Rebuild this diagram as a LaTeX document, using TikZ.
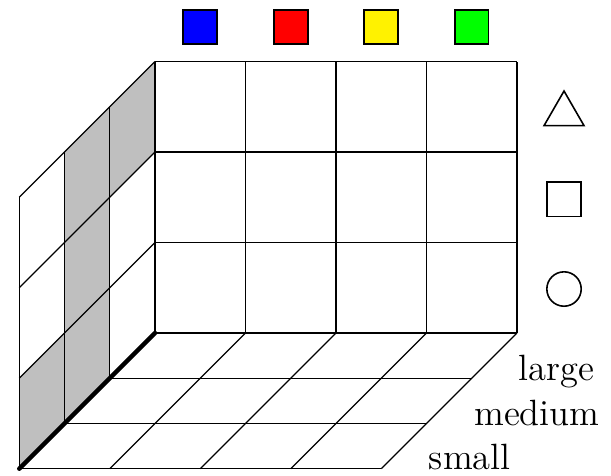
\documentclass[tikz,border=0pt]{standalone}
\usetikzlibrary{shapes.geometric}

\begin{document}
\begin{tikzpicture}[x=1cm, y=1cm, z={(-0.5cm,-0.5cm)},
		cell/.style={line width=0.4pt},
		shaded/.style={fill=black!25},
		swatch/.style={draw, line width=0.5pt, minimum size=0.375cm, inner sep=0pt},
		sym/.style={draw, line width=0.5pt, inner sep=0pt},
		sizelabel/.style={anchor=base west, inner sep=0pt, font=\fontsize{11.5}{14}\selectfont}]
	\useasboundingbox (-1.713,-1.58) rectangle (5.039,3.68);
	\fill[shaded] (0,0,1) -- (0,3,1) -- (0,3,2) -- (0,0,2) -- cycle;
	\fill[shaded] (0,2,0) -- (0,3,0) -- (0,3,1) -- (0,2,1) -- cycle;
	\fill[shaded] (0,0,2) -- (0,1,2) -- (0,1,3) -- (0,0,3) -- cycle;
	\begin{scope}[cell]
		\foreach \i in {0,...,4} {
			\draw (\i,0,0) -- (\i,3,0);
			\draw (\i,0,0) -- (\i,0,3);
		}
		\foreach \j in {0,...,3} {
			\draw (0,\j,0) -- (4,\j,0);
			\draw (0,\j,0) -- (0,\j,3);
			\draw (0,0,\j) -- (4,0,\j);
			\draw (0,0,\j) -- (0,3,\j);
		}
	\end{scope}
	\coordinate (o) at (0,0,0);
	\coordinate (top) at (0,3,0);
	\coordinate (right) at (4,0,0);
	\coordinate (front) at (0,0,3);
	\draw[line width=0.8pt] (o) -- (top);
	\draw[line width=0.6pt] (o) -- (right);
	\draw[line width=1.4pt, line cap=round] (o) -- (front);
	\foreach \c [count=\k] in {blue,red,yellow,green}
		\node[swatch, fill=\c] (sw\k) at (\k-0.5,3.381) {};
	\node[sym, regular polygon, regular polygon sides=3, minimum size=0.51cm] (tri) at (4.52,2.419) {};
	\node[sym, rectangle, minimum size=0.38cm] (sq) at (4.52,1.478) {};
	\node[sym, circle, minimum size=0.38cm] (circ) at (4.52,0.486) {};
	\node[sizelabel] (large) at (4.01,-0.53) {large};
	\node[sizelabel] (medium) at (3.52,-1.02) {medium};
	\node[sizelabel] (small) at (3.02,-1.51) {small};
\end{tikzpicture}
\end{document}
